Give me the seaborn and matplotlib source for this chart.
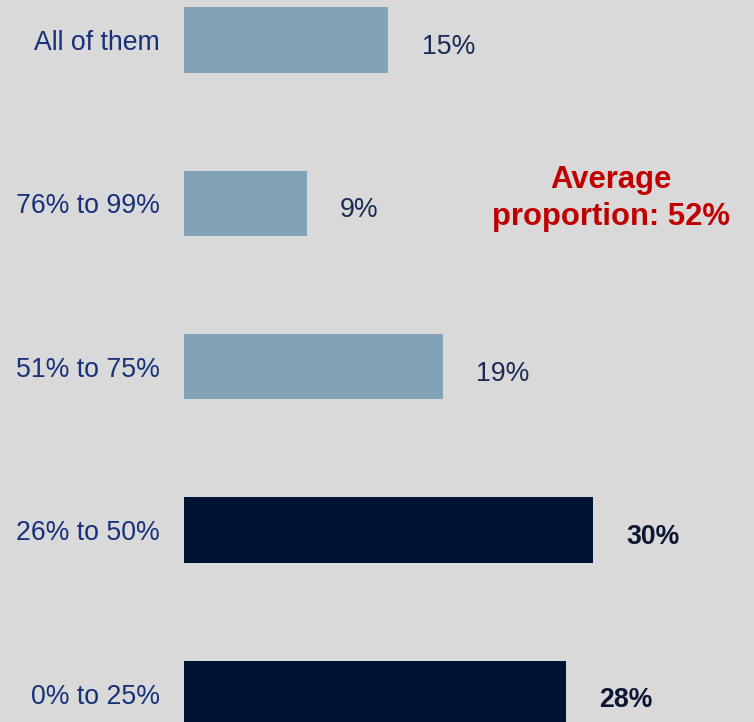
import matplotlib
matplotlib.use("Agg")
import matplotlib.pyplot as plt
import pandas as pd
import seaborn as sns

# Datos
categories = ["All of them", "76% to 99%", "51% to 75%", "26% to 50%", "0% to 25%"]
values = [15, 9, 19, 30, 28]
highlight = [False, False, False, True, True]
average_text = "Average\nproportion: 52%"

_BG = "#d9d9d9"
_LIGHT = "#82a2b8"
_DARK = "#001335"
_LABEL = "#17307a"
_VALUE = "#1a2a55"
_VALUE_BOLD = "#0c1633"
_RED = "#c00000"

sns.set_theme(style="white")
plt.rcParams["font.family"] = ["Liberation Sans", "DejaVu Sans"]

df = pd.DataFrame({"category": categories, "value": values, "highlight": highlight})
palette = {c: (_DARK if h else _LIGHT) for c, h in zip(categories, highlight)}

fig = plt.figure(figsize=(7.54, 7.22), dpi=100, facecolor=_BG)
ax = fig.add_axes([184 / 754, 0, 570 / 754, 1])
ax.set_facecolor(_BG)

sns.barplot(
    data=df, x="value", y="category", hue="category",
    palette=palette, legend=False, width=0.4, saturation=1,
    linewidth=0, edgecolor="none", ax=ax,
)

ax.set_xlim(0, 41.82)
ax.set_ylim(4.174, -0.244)
ax.set_xlabel("")
ax.set_ylabel("")
ax.set_xticks([])
ax.tick_params(axis="y", length=0, pad=17.3, labelsize=19.2, labelcolor=_LABEL)
for s in ax.spines.values():
    s.set_visible(False)

# Etiquetas de valor a la derecha de cada barra (un poco por debajo del centro)
for i, row in df.iterrows():
    ax.text(
        row["value"] + 2.43, i + 0.042, f"{row['value']}%",
        ha="left", va="center", fontsize=19.2,
        fontweight="bold" if row["highlight"] else "normal",
        color=_VALUE_BOLD if row["highlight"] else _VALUE,
    )

ax.text(
    0.749, 0.725, average_text, transform=ax.transAxes,
    ha="center", va="center", fontsize=22.3, fontweight="bold",
    color=_RED, linespacing=1.3,
)

fig.savefig("out.png", dpi=100, facecolor=_BG)
plt.close(fig)
